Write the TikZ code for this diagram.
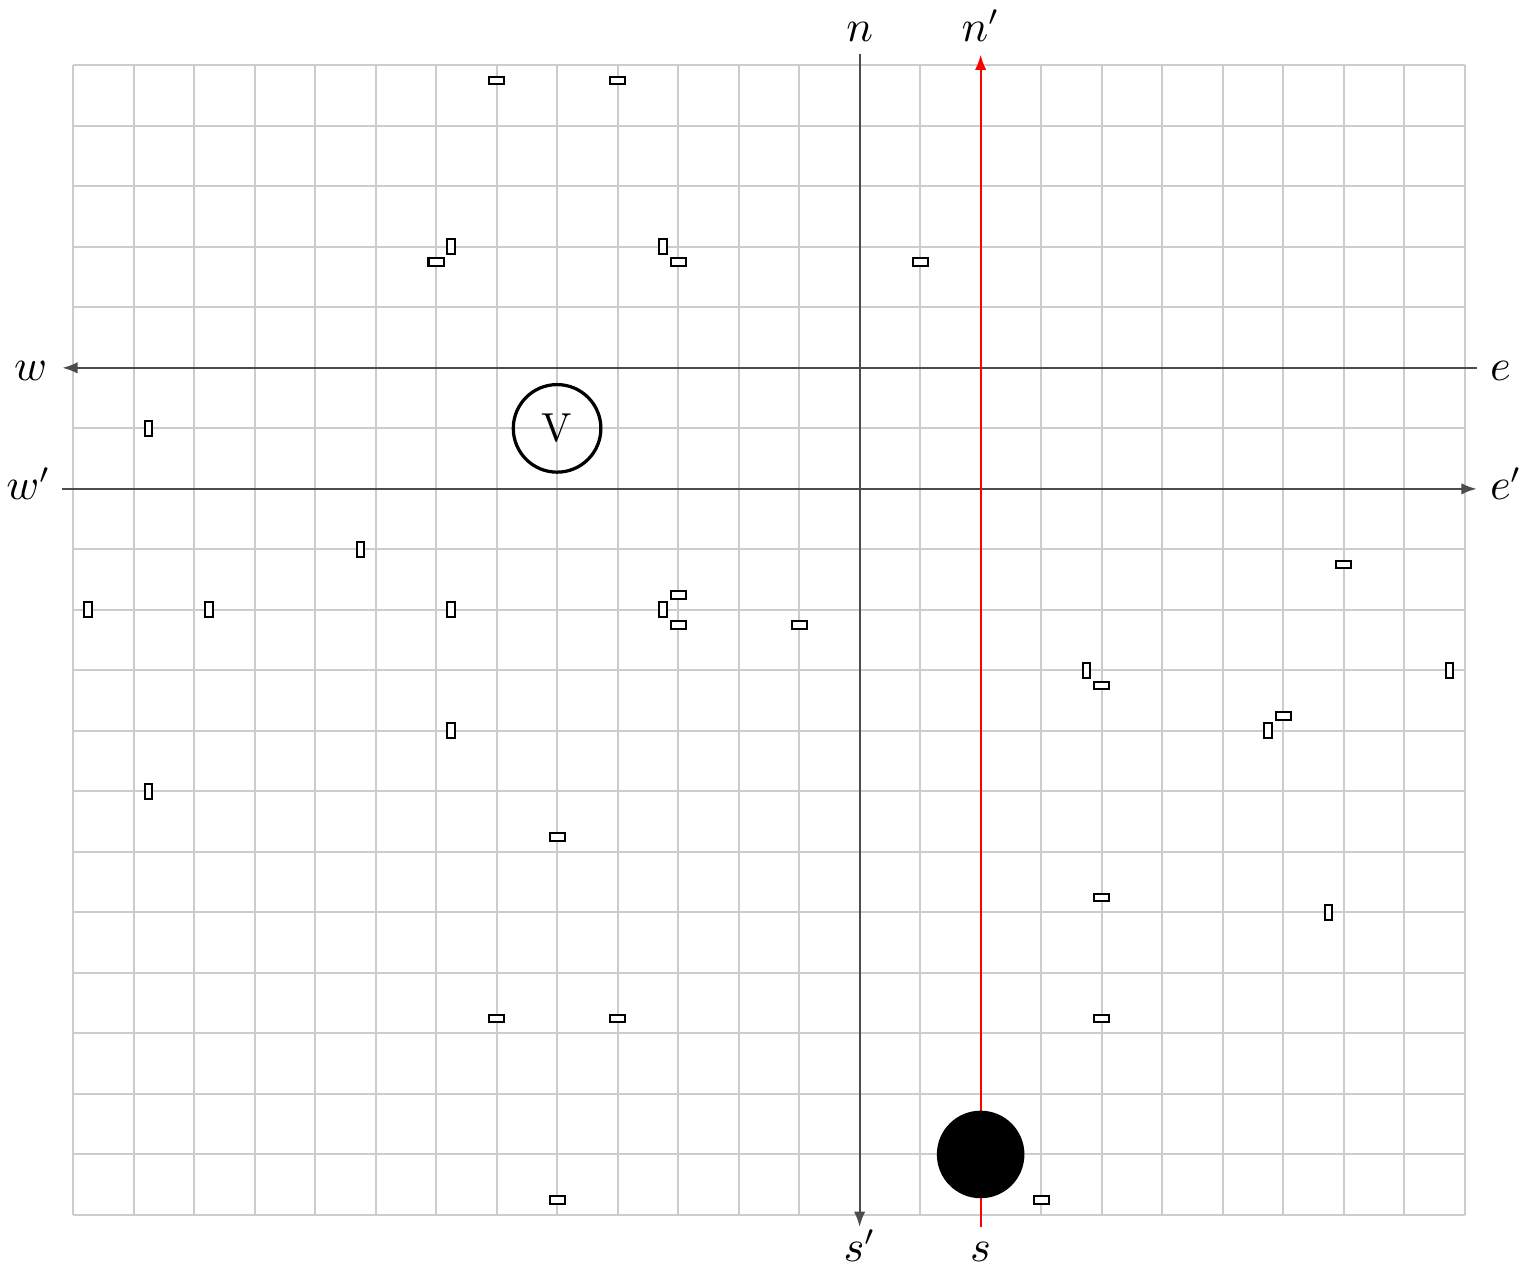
\documentclass[tikz,border=0pt]{standalone}
\usetikzlibrary{arrows.meta}
\begin{document}
\begin{tikzpicture}[x=0.525cm,y=0.525cm,
  gridline/.style={draw=black!20, line width=0.5pt},
  axisline/.style={draw=black!70, line width=0.55pt},
  redline/.style={draw=red, line width=0.55pt},
  tip/.style={-{Latex[length=3.8pt,width=2.8pt]}},
  hbox/.style={draw, fill=white, line width=0.5pt, inner sep=0pt, outer sep=0pt, minimum width=0.13125cm, minimum height=0.065625cm},
  vbox/.style={draw, fill=white, line width=0.5pt, inner sep=0pt, outer sep=0pt, minimum width=0.065625cm, minimum height=0.13125cm},
  lbl/.style={inner sep=0pt, outer sep=0pt, font=\fontsize{10.6}{13}\selectfont}
]
\useasboundingbox (-1.207,-0.909) rectangle (23.98,20.08);
% grid
\draw[gridline, step=1] (0,0) grid (23,19);
% axes
\coordinate (nT) at (13,19.18);
\coordinate (sB) at (13,-0.2);
\coordinate (npT) at (15,19.18);
\coordinate (spB) at (15,-0.2);
\coordinate (wL) at (-0.18,14);
\coordinate (eR) at (23.2,14);
\coordinate (wpL) at (-0.18,12);
\coordinate (epR) at (23.2,12);
\draw[axisline,tip] (nT) -- (sB);
\draw[axisline,tip] (eR) -- (wL);
\draw[axisline,tip] (wpL) -- (epR);
\draw[redline,tip] (spB) -- (npT);
\node[lbl,anchor=base] (ln) at (13,19.39) {$n$};
\node[lbl,anchor=base] (lnp) at (15,19.39) {$n'$};
\node[lbl,anchor=base] (lsp) at (13,-0.77) {$s'$};
\node[lbl,anchor=base] (ls) at (15,-0.77) {$s$};
\node[lbl,anchor=base east] (lw) at (-0.43,13.79) {$w$};
\node[lbl,anchor=base west] (le) at (23.42,13.79) {$e$};
\node[lbl,anchor=base east] (lwp) at (-0.37,11.82) {$w'$};
\node[lbl,anchor=base west] (lep) at (23.42,11.82) {$e'$};
% circles
\node[circle, draw, line width=0.8pt, minimum size=0.76cm, inner sep=0pt] (V) at (8,13) {V};
\node[circle, fill=black, minimum size=0.76cm, inner sep=0pt] (B) at (15,1) {};
% small boxes
\node[hbox] (r1) at (7,18.75) {};
\node[hbox] (r2) at (9,18.75) {};
\node[vbox] (r3) at (6.25,16) {};
\node[hbox] (r4) at (6,15.75) {};
\node[vbox] (r5) at (9.75,16) {};
\node[hbox] (r6) at (10,15.75) {};
\node[hbox] (r7) at (14,15.75) {};
\node[vbox] (r8) at (1.25,13) {};
\node[vbox] (r9) at (4.75,11) {};
\node[vbox] (r10) at (0.25,10) {};
\node[vbox] (r11) at (2.25,10) {};
\node[vbox] (r12) at (6.25,10) {};
\node[hbox] (r13) at (10,10.25) {};
\node[vbox] (r14) at (9.75,10) {};
\node[hbox] (r15) at (10,9.75) {};
\node[hbox] (r16) at (12,9.75) {};
\node[hbox] (r17) at (21,10.75) {};
\node[vbox] (r18) at (16.75,9) {};
\node[hbox] (r19) at (17,8.75) {};
\node[vbox] (r20) at (22.75,9) {};
\node[hbox] (r21) at (20,8.25) {};
\node[vbox] (r22) at (19.75,8) {};
\node[vbox] (r23) at (6.25,8) {};
\node[vbox] (r24) at (1.25,7) {};
\node[hbox] (r25) at (8,6.25) {};
\node[hbox] (r26) at (17,5.25) {};
\node[vbox] (r27) at (20.75,5) {};
\node[hbox] (r28) at (7,3.25) {};
\node[hbox] (r29) at (9,3.25) {};
\node[hbox] (r30) at (17,3.25) {};
\node[hbox] (r31) at (8,0.25) {};
\node[hbox] (r32) at (16,0.25) {};
\end{tikzpicture}
\end{document}
